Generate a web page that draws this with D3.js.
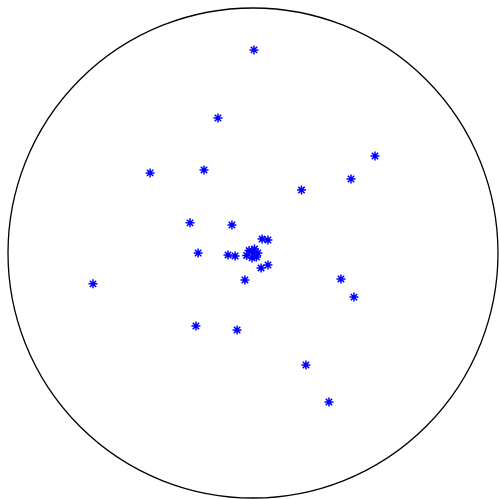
<!DOCTYPE html>
<html><head><meta charset="utf-8">
<script src="https://cdn.jsdelivr.net/npm/d3@7"></script>
<style>html,body{margin:0;padding:0;background:#fff;}svg{display:block;}</style>
</head><body>
<svg id="c" width="499" height="499"></svg>
<script>
// Normalized positions inside the unit polar disc (x right, y up)
const xs = [0.004,-0.143,-0.420,-0.200,0.498,0.400,0.198,-0.257,-0.086,0.037,0.061,-0.224,-0.102,-0.073,
  -0.016,0.006,0.020,-0.004,-0.026,0.000,0.014,0.033,0.061,-0.033,-0.653,0.359,0.412,-0.233,-0.065,0.216,0.310];
const ys = [0.829,0.551,0.327,0.339,0.396,0.302,0.257,0.123,0.114,0.057,0.053,0.000,-0.008,-0.012,
  0.010,0.016,0.000,-0.020,-0.010,0.000,-0.016,-0.061,-0.049,-0.110,-0.126,-0.106,-0.180,-0.298,-0.314,-0.457,-0.608];

const svg = d3.select("#c");
const cx = 253, cy = 253, R = 245;
const sx = d3.scaleLinear().domain([-1,1]).range([cx-R, cx+R]);
const sy = d3.scaleLinear().domain([-1,1]).range([cy+R, cy-R]);

svg.append("circle").attr("cx", cx).attr("cy", cy).attr("r", R)
  .attr("fill","none").attr("stroke","#000").attr("stroke-width",1.3);

const s = 4.5, d = s*0.7071;
const ast = `M${-s},0L${s},0M0,${-s}L0,${s}M${-d},${-d}L${d},${d}M${-d},${d}L${d},${-d}`;
svg.append("g").selectAll("path").data(xs.map((x,i)=>[x,ys[i]])).join("path")
  .attr("transform", p => `translate(${sx(p[0])},${sy(p[1])})`)
  .attr("d", ast).attr("fill","none").attr("stroke","#0000ff").attr("stroke-width",1.5);
</script>
</body></html>
